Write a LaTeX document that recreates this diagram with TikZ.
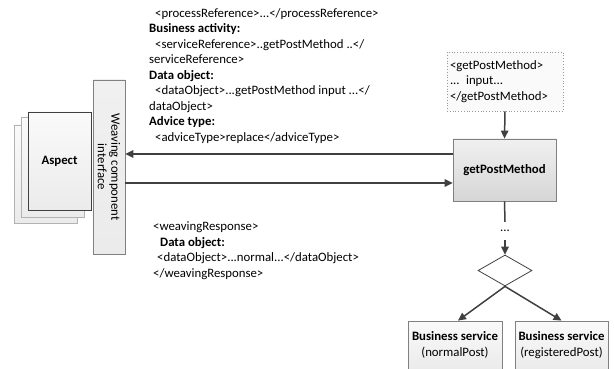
\documentclass[tikz,border=0pt]{standalone}
\usepackage{fontspec}
\setmainfont{Carlito}
\usetikzlibrary{arrows.meta,shapes.geometric}
\definecolor{LineGray}{HTML}{404040}
\definecolor{FrameGray}{HTML}{808080}
\definecolor{BoxTop}{HTML}{F0F0F0}
\definecolor{BoxBottom}{HTML}{D6D6D6}
\definecolor{PaleTop}{HTML}{FAFAFA}
\definecolor{PaleBottom}{HTML}{EBEBEB}

\tikzset{
  flow/.style={draw=LineGray, line width=1.5pt},
  arrow/.style={flow, -{Triangle[length=8pt,width=7.5pt]}},
  box/.style={rectangle, draw=FrameGray, line width=0.8pt, inner sep=0pt,
    top color=PaleTop, bottom color=PaleBottom},
  note/.style={align=left, inner sep=0pt, anchor=north west}
}

\begin{document}
\begin{tikzpicture}[x=1pt, y=-1pt, font=\fontsize{12.8}{15.5}\selectfont]
\useasboundingbox (0,0) rectangle (614,369);

% Aspect stack
\node[box, draw=FrameGray!60, minimum width=63pt, minimum height=98pt] (aspectback) at (45.5,174) {};
\node[box, draw=FrameGray!60, minimum width=63pt, minimum height=100pt] (aspectmid) at (52.5,167) {};
\node[box, draw=LineGray, minimum width=63pt, minimum height=98pt] (aspect) at (59.5,161) {\textbf{Aspect}};

% Interface
\node[box, minimum width=32pt, minimum height=174pt,
  top color=BoxTop, bottom color=PaleBottom] (iface) at (109,167) {};
\node[rotate=-90, align=center, inner sep=0pt,
  font=\fontsize{12.8}{13.5}\selectfont] (ifacetext) at (iface.center) {Weaving component\\interface};

% Service side
\node[box, minimum width=116pt, minimum height=59pt, draw=FrameGray!80, dotted,
  top color=PaleTop, bottom color=PaleTop, text width=110pt, inner sep=3pt,
  align=left] (input) at (505,81.5) {<getPostMethod>\\... input...\\</getPostMethod>};
\node[box, minimum width=103pt, minimum height=62pt,
  top color=BoxTop, bottom color=BoxBottom] (gpm) at (504.5,170) {\textbf{getPostMethod}};
\node[inner sep=0pt, minimum height=18pt] (dots) at (505,231) {...};
\node[diamond, draw=LineGray, line width=0.8pt, fill=white, aspect=1.75,
  minimum width=54pt, minimum height=31pt, inner sep=0pt] (choice) at (505,270.5) {};
\node[box, minimum width=94pt, minimum height=48pt, align=center] (normal) at (455,345)
  {\textbf{Business service}\\(normalPost)};
\node[box, minimum width=93pt, minimum height=48pt, align=center] (registered) at (561.5,345)
  {\textbf{Business service}\\(registeredPost)};

% Messages
\node[note] (request) at (149,8) {%
\hspace*{6pt}<processReference>...</processReference>\\
\textbf{Business activity:}\\
\hspace*{6pt}<serviceReference>..getPostMethod ..</\\
serviceReference>\\
\textbf{Data object:}\\
\hspace*{6pt}<dataObject>...getPostMethod input ...</\\
dataObject>\\
\textbf{Advice type:}\\
\hspace*{6pt}<adviceType>replace</adviceType>};

\node[note] (response) at (153,221.5) {%
<weavingResponse>\\
\hspace*{7pt}\textbf{Data object:}\\
\hspace*{4pt}<dataObject>...normal...</dataObject>\\
</weavingResponse>};

% Connectors
\draw[arrow] ([yshift=16pt]gpm.west) -- ([yshift=16pt]gpm.west -| iface.east);
\draw[arrow] ([yshift=-13pt]gpm.west -| iface.east) -- ([yshift=-13pt]gpm.west);
\draw[arrow] (input.south) -- (gpm.north);
\draw[flow] (gpm.south) -- (dots.north);
\draw[arrow] (dots.south) -- (choice.north);
\draw[arrow] (choice.south) -- ([xshift=3pt]normal.north);
\draw[arrow] (choice.south) -- (registered.north);

\end{tikzpicture}
\end{document}
